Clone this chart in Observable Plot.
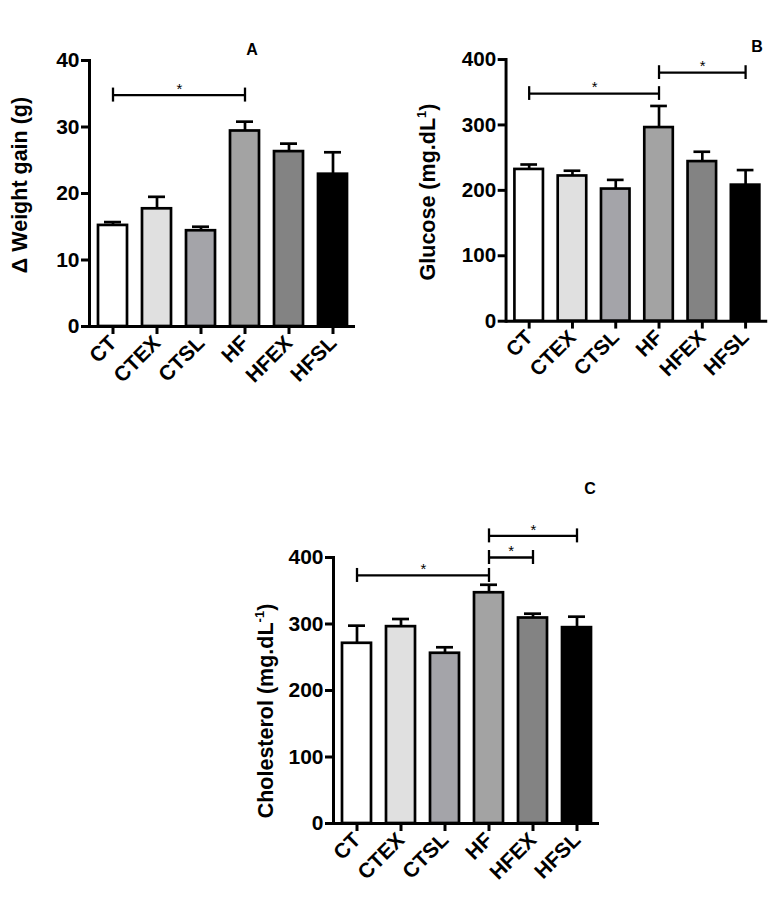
<!DOCTYPE html>
<html>
<head>
<meta charset="utf-8">
<script src="https://cdn.jsdelivr.net/npm/d3@7"></script>
<script src="https://cdn.jsdelivr.net/npm/@observablehq/plot@0.6"></script>
<style>
  html, body { margin: 0; padding: 0; background: #fff; }
  #root { position: relative; width: 782px; height: 900px; background: #fff; font-family: "Liberation Sans", Arial, sans-serif; color: #000; }
  .panel { position: absolute; }
  .ytitle { position: absolute; transform: translate(-50%, -50%) rotate(-90deg); white-space: nowrap; font-weight: bold; font-size: 21.5px; }
  .ytitle sup { font-size: 13px; vertical-align: 9px; line-height: 0; }
  .letter { position: absolute; transform: translate(-50%, -50%); font-weight: bold; font-size: 16px; }
</style>
</head>
<body>
<div id="root"></div>
<script>
// ---- data ----
const groups = ["CT", "CTEX", "CTSL", "HF", "HFEX", "HFSL"];
const barColors = ["#ffffff", "#e0e0e0", "#a4a4a9", "#a3a3a3", "#838383", "#000000"];

const weightMean  = [15.2, 17.7, 14.4, 29.4, 26.3, 22.9];
const weightUpper = [15.7, 19.5, 15.0, 30.8, 27.5, 26.2];
const weightTicks = [0, 10, 20, 30, 40];
const weightBrackets = [{from: "CT", to: "HF", y: 34.8}];

const glucoseMean  = [232, 222, 202, 296, 244, 208];
const glucoseUpper = [239.5, 230, 216, 329, 259, 231];
const glucoseTicks = [0, 100, 200, 300, 400];
const glucoseBrackets = [{from: "CT", to: "HF", y: 348}, {from: "HF", to: "HFSL", y: 380}];

const cholMean  = [271, 296, 256, 347, 309, 294.5];
const cholUpper = [297.5, 307.5, 265, 359, 315.5, 311];
const cholTicks = [0, 100, 200, 300, 400];
const cholBrackets = [
  {from: "CT", to: "HF", y: 373},
  {from: "HF", to: "HFEX", y: 400},
  {from: "HF", to: "HFSL", y: 432.5}
];

// ---- layout ----
const W = 370, H = 400, ML = 89, MR = 15, MT = 60, MB = 74;
const step = (W - ML - MR) / groups.length;
const FONT = "'Liberation Sans', Arial, sans-serif";

function panel(mean, upper, ticks, brackets) {
  const data = groups.map((g, i) => ({group: g, mean: mean[i], upper: upper[i]}));
  const caps = brackets.flatMap(b => [{x: b.from, y: b.y}, {x: b.to, y: b.y}]);
  const stars = brackets.map(b =>
    Plot.text([b], {
      x: "from", y: "y", text: () => "*",
      dx: (groups.indexOf(b.to) - groups.indexOf(b.from)) / 2 * step,
      dy: -6, fontSize: 15, fill: "black"
    })
  );
  return Plot.plot({
    width: W, height: H,
    marginLeft: ML, marginRight: MR, marginTop: MT, marginBottom: MB,
    style: {overflow: "visible", background: "transparent", color: "black", fontFamily: FONT},
    x: {type: "band", domain: groups, padding: 0.35, paddingOuter: 0.175, align: 0.5},
    y: {domain: [ticks[0], ticks[ticks.length - 1]]},
    color: {type: "ordinal", domain: groups, range: barColors},
    marks: [
      Plot.barY(data, {x: "group", y: "mean", fill: "group", stroke: "black", strokeWidth: 2.7}),
      Plot.ruleX(data, {x: "group", y1: "mean", y2: "upper", stroke: "black", strokeWidth: 2.7}),
      Plot.tickY(data, {x: "group", y: "upper", stroke: "black", strokeWidth: 2.7, insetLeft: 6, insetRight: 6}),
      Plot.link(brackets, {x1: "from", x2: "to", y1: "y", y2: "y", stroke: "black", strokeWidth: 2.3}),
      Plot.ruleX(caps, {x: "x", y1: "y", y2: "y", insetTop: -7, insetBottom: -7, stroke: "black", strokeWidth: 2.3}),
      ...stars,
      Plot.frame({anchor: "left", stroke: "black", strokeWidth: 3}),
      Plot.ruleY([ticks[0]], {stroke: "black", strokeWidth: 3}),
      Plot.axisY({ticks, tickSize: 8, tickPadding: 2, strokeWidth: 3, fontSize: 21, fontWeight: "bold", label: null, stroke: "black", fill: "black"}),
      Plot.axisX({tickRotate: -45, tickSize: 8, tickPadding: 5, strokeWidth: 3, fontSize: 21, fontWeight: "bold", label: null, stroke: "black", fill: "black"})
    ]
  });
}

const root = document.getElementById("root");
function place(el, left, top) {
  const d = document.createElement("div");
  d.className = "panel";
  d.style.left = left + "px";
  d.style.top = top + "px";
  d.appendChild(el);
  root.appendChild(d);
}
place(panel(weightMean, weightUpper, weightTicks, weightBrackets), 0, 0);
place(panel(glucoseMean, glucoseUpper, glucoseTicks, glucoseBrackets), 418, 0);
place(panel(cholMean, cholUpper, cholTicks, cholBrackets), 244, 497);

function addHTML(cls, html, x, y) {
  const d = document.createElement("div");
  d.className = cls;
  d.innerHTML = html;
  d.style.left = x + "px";
  d.style.top = y + "px";
  root.appendChild(d);
}
addHTML("ytitle", "&Delta; Weight gain (g)", 20, 185);
addHTML("ytitle", "Glucose (mg.dL<sup>1</sup>)", 428, 192);
addHTML("ytitle", "Cholesterol (mg.dL<sup>-1</sup>)", 266, 711);
addHTML("letter", "A", 252, 50);
addHTML("letter", "B", 757, 47);
addHTML("letter", "C", 590, 489);
</script>
</body>
</html>
